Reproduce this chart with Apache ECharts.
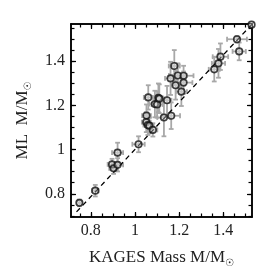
<!DOCTYPE html>
<html><head><meta charset="utf-8">
<script src="https://cdn.jsdelivr.net/npm/echarts@6/dist/echarts.min.js"></script>
<style>html,body{margin:0;padding:0;background:#fff}#c{width:276px;height:276px}</style>
</head><body><div id="c"></div>
<script>
const kagesMass = [0.748,0.82,0.896,0.903,0.921,0.921,1.016,1.052,1.051,1.058,1.065,1.06,1.081,1.09,1.100,1.106,1.110,1.131,1.145,1.164,1.161,1.178,1.184,1.194,1.210,1.220,1.220,1.359,1.378,1.387,1.462,1.472,1.528];
const mlMass    = [0.759,0.814,0.933,0.915,0.986,0.931,1.024,1.154,1.124,1.111,1.108,1.236,1.089,1.206,1.204,1.234,1.230,1.145,1.223,1.153,1.322,1.378,1.291,1.335,1.262,1.334,1.303,1.363,1.390,1.420,1.499,1.444,1.565];
const xErr      = [0.01,0.015,0.02,0.02,0.025,0.025,0.028,0.02,0.02,0.02,0.02,0.02,0.02,0.025,0.025,0.02,0.02,0.03,0.02,0.04,0.025,0.025,0.02,0.04,0.025,0.045,0.04,0.025,0.03,0.035,0.045,0.03,0.01];
const yErr      = [0.015,0.026,0.025,0.025,0.045,0.03,0.036,0.05,0.045,0.045,0.035,0.055,0.03,0.06,0.06,0.065,0.065,0.085,0.065,0.06,0.075,0.072,0.065,0.055,0.065,0.045,0.05,0.055,0.065,0.06,0.015,0.04,0.01];
const refLineX  = [0.735, 1.53];
const refLineY  = [0.718, 1.567];
const xMajorTicks = [0.8, 1, 1.2, 1.4];
const xMinorTicks = [0.75,0.8,0.85,0.9,0.95,1,1.05,1.1,1.15,1.2,1.25,1.3,1.35,1.4,1.45,1.5];
const yMajorTicks = [0.8, 1, 1.2, 1.4];
const yMinorTicks = [0.7,0.75,0.8,0.85,0.9,0.95,1,1.05,1.1,1.15,1.2,1.25,1.3,1.35,1.4,1.45,1.5,1.55];
const xTitle = '{a|KAGES Mass M/M}{s|☉}';
const yTitle = '{a|ML  M/M}{s|☉}';

const X_MIN = 0.71, X_MAX = 1.53, Y_MIN = 0.695, Y_MAX = 1.568;
const FONT = 'Liberation Serif';
const rich = {
  a: {fontFamily: FONT, fontSize: 17, color: '#222', lineHeight: 20},
  s: {fontFamily: 'DejaVu Sans', fontSize: 10, color: '#222', verticalAlign: 'bottom', lineHeight: 10, padding: [6,0,0,0]}
};
function mkAxis(dim, pos, ticks, len, labels, name) {
  const isX = dim === 'x';
  const ax = {
    type: 'value', position: pos,
    min: isX ? X_MIN : Y_MIN, max: isX ? X_MAX : Y_MAX,
    axisLine: {show: true, onZero: false, lineStyle: {color: '#000', width: 1.5}},
    axisTick: {show: true, inside: true, length: len, customValues: ticks, lineStyle: {color: '#000', width: 1.2}},
    axisLabel: labels ? {show: true, customValues: labels, fontFamily: FONT, fontSize: 16, color: '#222', margin: 6} : {show: false},
    splitLine: {show: false}
  };
  if (name) {
    ax.name = name; ax.nameLocation = 'middle';
    ax.nameTextStyle = {rich: rich};
    ax.nameGap = isX ? 31 : 38;
    if (!isX) ax.nameRotate = 90;
  }
  return ax;
}
const errData = kagesMass.map((x, i) => [x, mlMass[i], xErr[i], yErr[i]]);
const chart = echarts.init(document.getElementById('c'), null, {renderer: 'canvas'});
chart.setOption({
  animation: false,
  backgroundColor: '#fff',
  grid: {left: 71, right: 24, top: 24, bottom: 59, containLabel: false},
  xAxis: [
    mkAxis('x', 'bottom', xMajorTicks, 5, xMajorTicks, xTitle),
    mkAxis('x', 'bottom', xMinorTicks, 3.5, null, null),
    mkAxis('x', 'top', xMajorTicks, 5, null, null),
    mkAxis('x', 'top', xMinorTicks, 3.5, null, null)
  ],
  yAxis: [
    mkAxis('y', 'left', yMajorTicks, 5, yMajorTicks, yTitle),
    mkAxis('y', 'left', yMinorTicks, 3.5, null, null),
    mkAxis('y', 'right', yMajorTicks, 5, null, null),
    mkAxis('y', 'right', yMinorTicks, 3.5, null, null)
  ],
  series: [
    {
      type: 'custom', clip: true, z: 1,
      data: errData,
      renderItem: function (params, api) {
        const x = api.value(0), y = api.value(1), ex = api.value(2), ey = api.value(3);
        const l = api.coord([x - ex, y]), r = api.coord([x + ex, y]);
        const b = api.coord([x, y - ey]), t = api.coord([x, y + ey]);
        const c = 2.4;
        const st = {stroke: '#a8a8a8', lineWidth: 1.8};
        return {type: 'group', children: [
          {type: 'line', shape: {x1: l[0], y1: l[1], x2: r[0], y2: r[1]}, style: st},
          {type: 'line', shape: {x1: b[0], y1: b[1], x2: t[0], y2: t[1]}, style: st},
          {type: 'line', shape: {x1: l[0], y1: l[1]-c, x2: l[0], y2: l[1]+c}, style: st},
          {type: 'line', shape: {x1: r[0], y1: r[1]-c, x2: r[0], y2: r[1]+c}, style: st},
          {type: 'line', shape: {x1: b[0]-c, y1: b[1], x2: b[0]+c, y2: b[1]}, style: st},
          {type: 'line', shape: {x1: t[0]-c, y1: t[1], x2: t[0]+c, y2: t[1]}, style: st}
        ]};
      }
    },
    {
      type: 'line', z: 2, symbol: 'none', clip: true,
      data: refLineX.map((x, i) => [x, refLineY[i]]),
      lineStyle: {color: '#000', width: 1.3, type: [5, 4]}
    },
    {
      type: 'scatter', z: 3, clip: true,
      data: kagesMass.map((x, i) => [x, mlMass[i]]),
      symbol: 'circle', symbolSize: 6.5,
      itemStyle: {color: 'rgba(255,255,255,0.4)', borderColor: '#111', borderWidth: 1.7}
    }
  ]
});
</script></body></html>
